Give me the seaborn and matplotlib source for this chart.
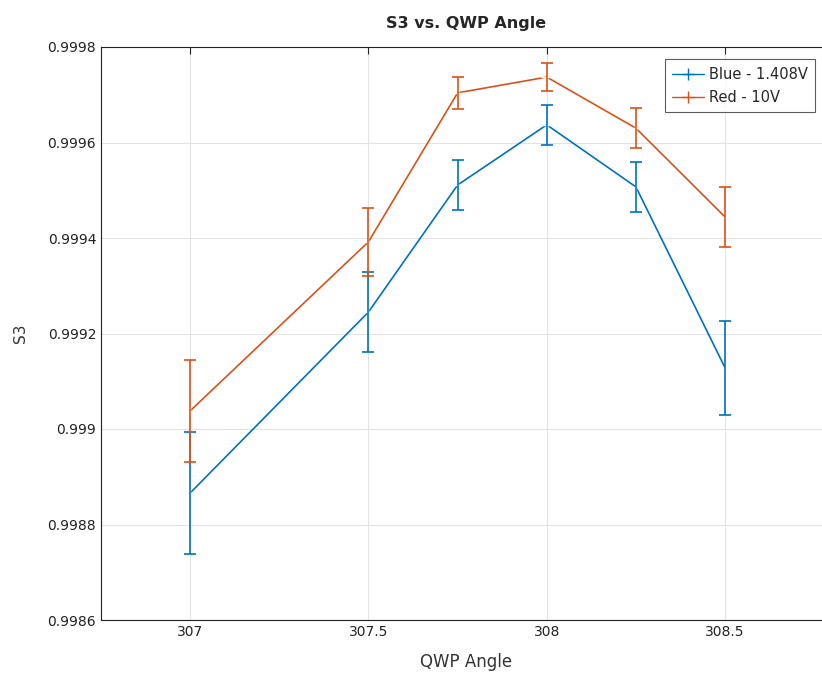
import numpy as np
import pandas as pd
import seaborn as sns
import matplotlib.pyplot as plt

# Data
angles = [307, 307.5, 307.75, 308, 308.25, 308.5]
blue_s3 = [0.998866, 0.999245, 0.999511, 0.999637, 0.999507, 0.999128]
blue_err = [0.000128, 0.000084, 0.000052, 0.000042, 0.000053, 0.000098]
red_s3 = [0.999038, 0.999392, 0.999704, 0.999737, 0.999630, 0.999444]
red_err = [0.000107, 0.000071, 0.000034, 0.000029, 0.000042, 0.000063]

df = pd.DataFrame({
    'angle': angles * 2,
    's3': blue_s3 + red_s3,
    'err': blue_err + red_err,
    'series': ['Blue - 1.408V'] * len(angles) + ['Red - 10V'] * len(angles),
})
colors = {'Blue - 1.408V': '#0072BD', 'Red - 10V': '#D95319'}

sns.set_style("white")
plt.rcParams['font.family'] = ['DejaVu Sans']

fig = plt.figure(figsize=(8.22, 6.75), dpi=100)
ax = fig.add_axes([101 / 822, 55 / 675, 730 / 822, 573 / 675])

sns.lineplot(x='angle', y='s3', hue='series', data=df, palette=colors,
             marker='+', markersize=8, markeredgewidth=1, linewidth=1.2,
             ax=ax, legend=False)
for name, grp in df.groupby('series'):
    ax.errorbar(grp['angle'], grp['s3'], yerr=grp['err'], fmt='none',
                ecolor=colors[name], elinewidth=1.2, capsize=4, capthick=1.2)

handles = [plt.Line2D([], [], color=c, marker='+', markersize=8, linewidth=1, label=n)
           for n, c in colors.items()]
leg = ax.legend(handles=handles, loc='upper right', bbox_to_anchor=(0.988, 0.991),
                fontsize=10.5, frameon=True, fancybox=False, edgecolor='#333333',
                borderpad=0.5, handlelength=2.2, handletextpad=0.3, labelspacing=0.55)
leg.get_frame().set_linewidth(0.8)

ax.set_xlim(306.75, 308.797)
ax.set_ylim(0.9986, 0.9998)
ax.set_xticks([307, 307.5, 308, 308.5])
ax.set_xticklabels(['307', '307.5', '308', '308.5'])
ax.set_yticks([0.9986, 0.9988, 0.999, 0.9992, 0.9994, 0.9996, 0.9998])
ax.set_yticklabels(['0.9986', '0.9988', '0.999', '0.9992', '0.9994', '0.9996', '0.9998'])
ax.grid(True, color='#e3e3e3', linewidth=0.8)
ax.set_axisbelow(True)
ax.tick_params(direction='in', top=True, right=True, length=5, width=0.8,
               labelsize=10, colors='#222222')
for s in ax.spines.values():
    s.set_color('#222222')
    s.set_linewidth(0.8)

ax.set_xlabel("QWP Angle", fontsize=12, color='#333333', labelpad=10)
ax.set_ylabel("S3", fontsize=11, color='#333333', labelpad=14)
ax.set_title("S3 vs. QWP Angle", fontsize=11.5, fontweight='bold', pad=14)

plt.savefig("out.png", dpi=100)
